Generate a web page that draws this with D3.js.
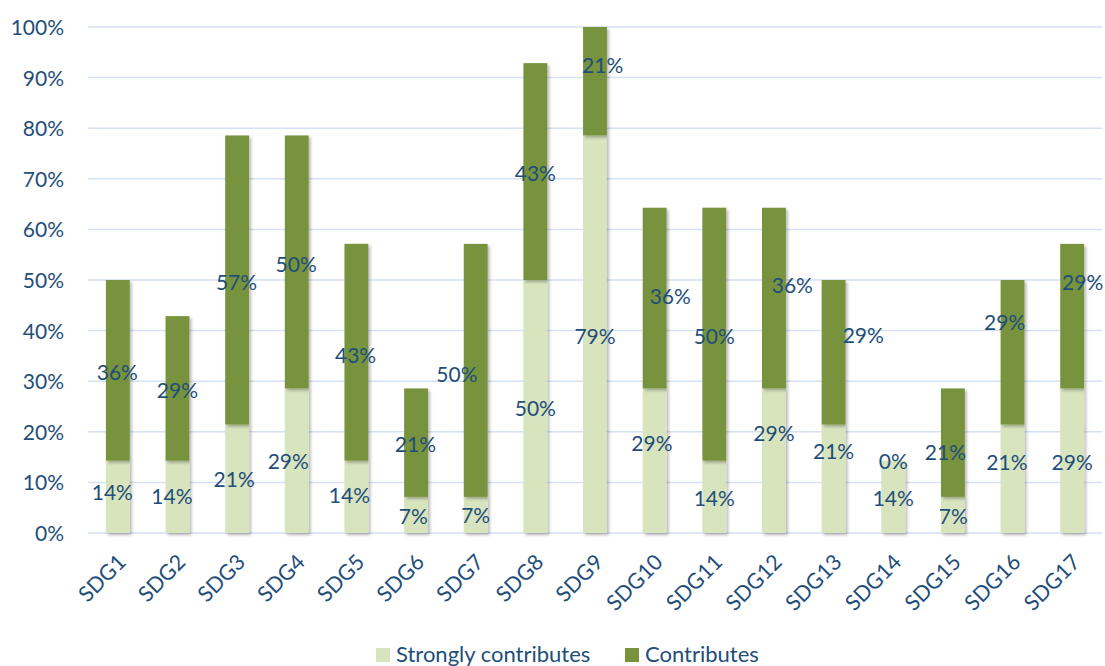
<!DOCTYPE html>
<html>
<head>
<meta charset="utf-8">
<script src="https://cdn.jsdelivr.net/npm/d3@7/dist/d3.min.js"></script>
<style>
  html, body { margin: 0; padding: 0; background: #ffffff; }
  svg text { font-family: Lato, "Open Sans", sans-serif; fill: #1F4E79; }
</style>
</head>
<body>
<svg id="chart" width="1105" height="666"></svg>
<script>
// ---- data ----
const categories = ["SDG1","SDG2","SDG3","SDG4","SDG5","SDG6","SDG7","SDG8","SDG9","SDG10","SDG11","SDG12","SDG13","SDG14","SDG15","SDG16","SDG17"];
const strongly = [14.29,14.29,21.43,28.57,14.29,7.14,7.14,50,78.57,28.57,14.29,28.57,21.43,14.29,7.14,21.43,28.57];
const contributes = [35.71,28.57,57.14,50,42.86,21.43,50,42.86,21.43,35.71,50,35.71,28.57,0,21.43,28.57,28.57];
const seriesNames = ["Strongly contributes","Contributes"];
const yTicks = [0,10,20,30,40,50,60,70,80,90,100];
// label anchor positions (value units on the y axis, as placed in the original chart)
const stronglyLabelAt = [7.96,7.31,10.61,14.09,7.5,3.36,3.46,24.64,38.79,17.73,6.86,19.7,16.07,6.86,3.36,13.97,13.97];
const contributesLabelAt = [31.68,28.12,49.47,53.1,35.18,17.59,31.36,71.09,92.49,46.7,38.79,49.01,38.99,14.09,15.95,41.56,49.47];
const stronglyLabelDx = [-5.5,-5.5,-3,-8.5,-7,-2.7,0,0,0,-2.7,0,0,0,0,0.5,-5.6,0];
const contributesLabelDx = [-0.5,0,-0.6,-0.6,-0.8,-0.6,-18.8,0,7.7,15.6,0,18.4,29.7,0,-7.5,-7.9,10.5];

// ---- layout ----
const colors = ["#D7E4BD", "#77933C"];
const margin = { left: 88, right: 3, top: 27, bottom: 133 };
const W = 1105, H = 666;
const svg = d3.select("#chart");

const x = d3.scaleBand().domain(categories).range([margin.left, W - margin.right]).paddingInner(0.6).paddingOuter(0.3);
const y = d3.scaleLinear().domain([0, 100]).range([H - margin.bottom, margin.top]);

const defs = svg.append("defs");
const f = defs.append("filter").attr("id", "shadow").attr("x", "-30%").attr("y", "-10%").attr("width", "160%").attr("height", "130%");
f.append("feDropShadow").attr("dx", 2).attr("dy", 2).attr("stdDeviation", 1.6).attr("flood-color", "#000").attr("flood-opacity", 0.28);

// gridlines
svg.append("g").selectAll("line").data(yTicks).join("line")
  .attr("x1", margin.left).attr("x2", W - margin.right)
  .attr("y1", d => y(d)).attr("y2", d => y(d))
  .attr("stroke", "#D6E1F2").attr("stroke-width", 1.5);

// y axis labels
const yAxis = d3.axisLeft(y).tickValues(yTicks).tickFormat(d => d + "%").tickSize(0).tickPadding(0);
const gy = svg.append("g").attr("transform", `translate(64,0)`).call(yAxis);
gy.select(".domain").remove();
gy.selectAll("text").style("font-size", "21px").style("fill", "#1F4E79")
  .style("font-family", "Lato, 'Open Sans', sans-serif").attr("dy", "0.36em");

// stacked bars
const rows = categories.map((c, i) => ({ cat: c, strongly: strongly[i], contributes: contributes[i] }));
const stack = d3.stack().keys(["strongly", "contributes"]);
const layers = stack(rows);

svg.append("g").selectAll("g").data(layers).join("g")
  .attr("fill", (d, i) => colors[i])
  .selectAll("rect").data(d => d.filter(s => s[1] - s[0] > 0)).join("rect")
  .attr("x", d => x(d.data.cat))
  .attr("width", x.bandwidth())
  .attr("y", d => y(d[1]))
  .attr("height", d => y(d[0]) - y(d[1]))
  .attr("filter", "url(#shadow)");

// data labels
const fmt = v => Math.round(v) + "%";
const lbl = svg.append("g").style("font-size", "21px").attr("text-anchor", "middle");
categories.forEach((c, i) => {
  const cx = x(c) + x.bandwidth() / 2;
  lbl.append("text").attr("x", cx + stronglyLabelDx[i]).attr("y", y(stronglyLabelAt[i])).attr("dy", "0.36em").text(fmt(strongly[i]));
  lbl.append("text").attr("x", cx + contributesLabelDx[i]).attr("y", y(contributesLabelAt[i])).attr("dy", "0.36em").text(fmt(contributes[i]));
});

// x axis labels
const gx = svg.append("g");
gx.selectAll("text").data(categories).join("text")
  .attr("transform", d => `translate(${x(d) + x.bandwidth() / 2 + 4},${y(0) + 25}) rotate(-45)`)
  .attr("text-anchor", "end")
  .attr("dy", "0.36em")
  .style("font-size", "21.5px")
  .text(d => d);

// legend
const leg = svg.append("g");
const legX = [376, 625];
seriesNames.forEach((n, i) => {
  leg.append("rect").attr("x", legX[i]).attr("y", 648).attr("width", 14).attr("height", 14).attr("fill", colors[i]);
  leg.append("text").attr("x", legX[i] + 20).attr("y", 662).style("font-size", "22px").text(n);
});
</script>
</body>
</html>
